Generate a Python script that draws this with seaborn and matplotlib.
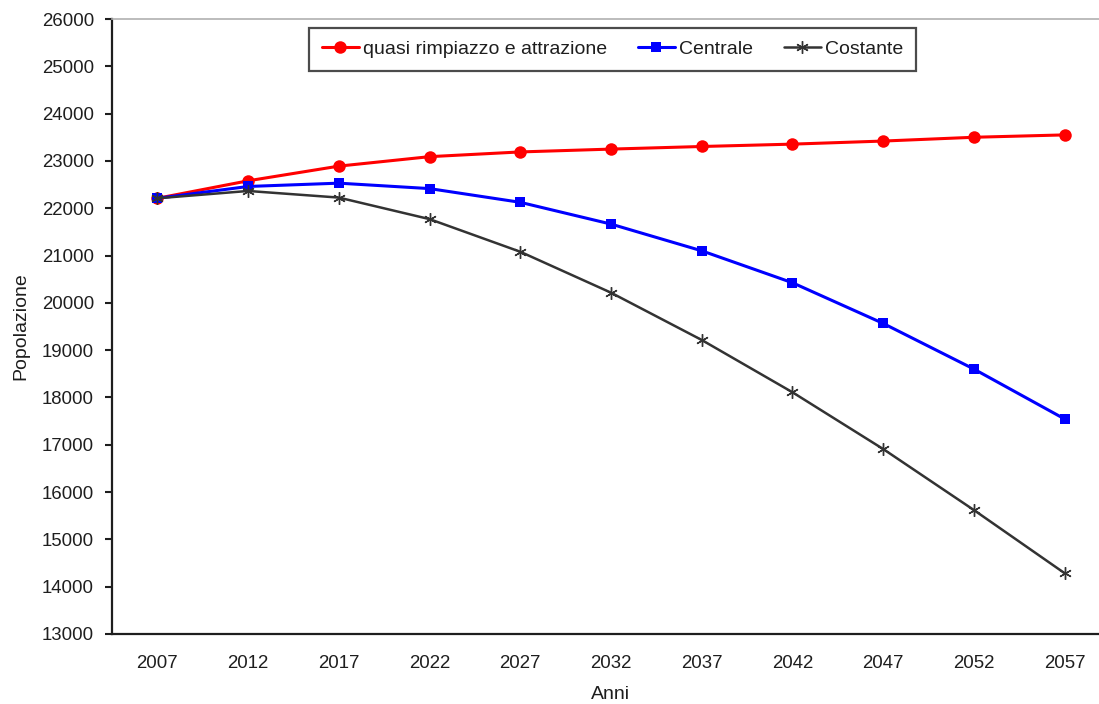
import matplotlib
matplotlib.use("Agg")
import matplotlib.pyplot as plt
import seaborn as sns
import pandas as pd

anni = ["2007", "2012", "2017", "2022", "2027", "2032", "2037", "2042", "2047", "2052", "2057"]
quasi_rimpiazzo = [22210, 22580, 22890, 23090, 23190, 23250, 23305, 23355, 23420, 23500, 23550]
centrale = [22210, 22460, 22530, 22415, 22125, 21665, 21100, 20425, 19565, 18600, 17545]
costante = [22210, 22365, 22225, 21770, 21080, 20215, 19215, 18110, 16910, 15620, 14285]

serie = ["quasi rimpiazzo e attrazione", "Centrale", "Costante"]
valori = [quasi_rimpiazzo, centrale, costante]

rows = []
for nome, vals in zip(serie, valori):
    for i, (a, v) in enumerate(zip(anni, vals)):
        rows.append({"pos": i, "Anni": a, "Popolazione": v, "Scenario": nome})
df = pd.DataFrame(rows)

sns.set_theme(style="white")
plt.rcParams["font.family"] = ["Liberation Sans", "DejaVu Sans"]

fig = plt.figure(figsize=(10.99, 7.04), dpi=100)
W, H = 1099, 704
left, right, top, bottom = 112, 1110, 19, 634
ax = fig.add_axes([left / W, 1 - bottom / H, (right - left) / W, (bottom - top) / H])

stili = {
    "quasi rimpiazzo e attrazione": dict(color="#ff0000", marker="o", markersize=9, lw=2.2,
                                         markeredgewidth=0),
    "Centrale": dict(color="#0000ff", marker="s", markersize=7.5, lw=2.2, markeredgewidth=0),
    "Costante": dict(color="#333333", marker=(6, 2, 0), markersize=9, lw=1.8,
                     markeredgewidth=1.0),
}

for nome in serie:
    sub = df[df["Scenario"] == nome]
    st = stili[nome]
    sns.lineplot(data=sub, x="pos", y="Popolazione", ax=ax, label=nome,
                 color=st["color"], marker=st["marker"], markersize=st["markersize"],
                 linewidth=st["lw"], markeredgewidth=st["markeredgewidth"],
                 markeredgecolor=st["color"])

tick_fs = 13.4
label_fs = 14
txt = "#1e1e1e"

ax.set_xlim(-0.5, len(anni) - 0.5)
ax.set_ylim(13000, 26000)
ax.set_yticks(range(13000, 26001, 1000))
ax.set_yticklabels([str(v) for v in range(13000, 26001, 1000)], fontsize=tick_fs, color=txt)
ax.set_xticks(range(len(anni)))
ax.set_xticklabels(anni, fontsize=tick_fs, color=txt)
ax.set_xticks([i - 0.5 for i in range(len(anni) + 1)], minor=True)
ax.tick_params(axis="x", which="major", length=0, pad=15)
ax.tick_params(axis="x", which="minor", length=6, width=1.5, color=txt, direction="out")
ax.tick_params(axis="y", which="major", length=5, width=1.5, color=txt, direction="out",
               pad=8, left=True)

ax.set_xlabel("Anni", fontsize=label_fs, color=txt, labelpad=10)
ax.set_ylabel("Popolazione", fontsize=label_fs, color=txt, labelpad=9)

for s in ["left", "bottom"]:
    ax.spines[s].set_color(txt)
    ax.spines[s].set_linewidth(1.6)
ax.spines["top"].set_color("#b0b0b0")
ax.spines["top"].set_linewidth(1.2)
ax.spines["right"].set_visible(False)
ax.grid(False)

leg = ax.legend(loc="center", bbox_to_anchor=(612.5 / W, 1 - 49.5 / H),
                bbox_transform=fig.transFigure, ncol=3, fontsize=label_fs,
                frameon=True, fancybox=False, edgecolor=txt,
                handlelength=1.9, handletextpad=0.2, columnspacing=1.6,
                borderpad=0.65, borderaxespad=0)
leg.get_frame().set_linewidth(1.6)
for t in leg.get_texts():
    t.set_color(txt)

fig.savefig("out.png", dpi=100)
